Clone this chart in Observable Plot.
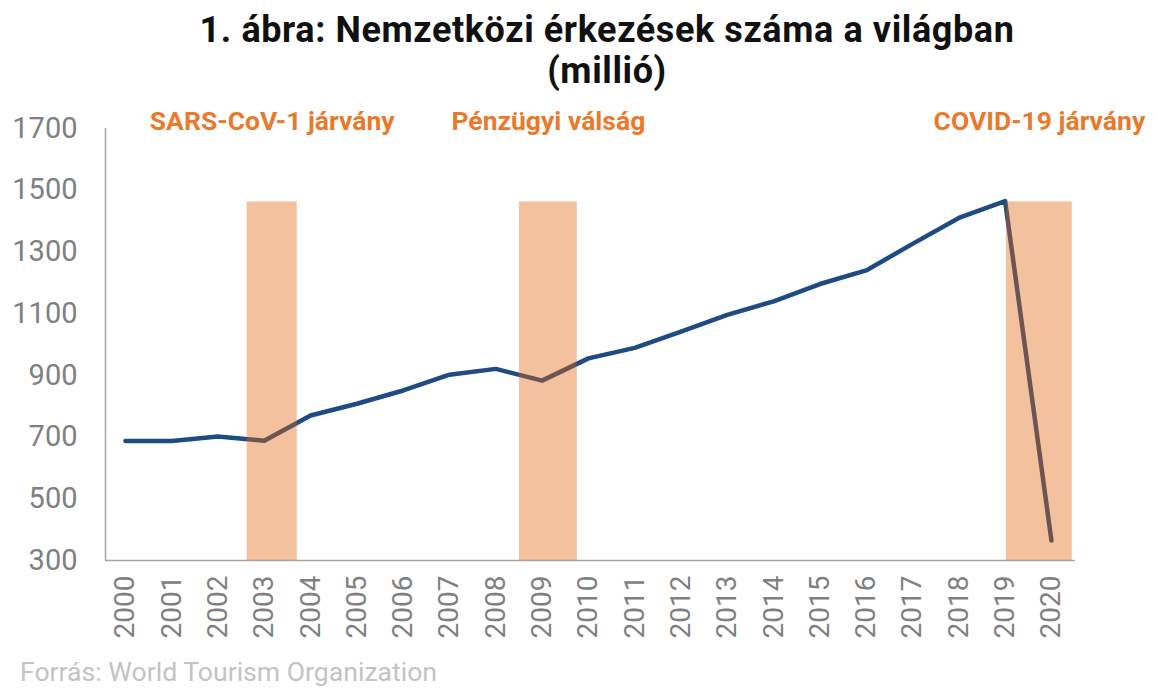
<!DOCTYPE html>
<html>
<head>
<meta charset="utf-8">
<script src="https://cdn.jsdelivr.net/npm/d3@7"></script>
<script src="https://cdn.jsdelivr.net/npm/@observablehq/plot@0.6"></script>
<style>
  html, body { margin: 0; padding: 0; background: #fff; }
  body { width: 1157px; height: 688px; overflow: hidden; font-family: Roboto, "Noto Sans", sans-serif; }
  #title { height: 100px; box-sizing: border-box; padding-top: 10px; padding-left: 57px; text-align: center; font-weight: 700; font-size: 36px; letter-spacing: 0.6px; line-height: 41px; color: #111; }
  #footer { height: 48px; box-sizing: border-box; padding-left: 20px; padding-top: 18px; font-size: 26.6px; color: #c3c3c3; line-height: 28px; }
  #chart svg { display: block; }
</style>
</head>
<body>
<div id="title">1. ábra: Nemzetközi érkezések száma a világban<br>(millió)</div>
<div id="chart"></div>
<div id="footer">Forrás: World Tourism Organization</div>
<script>
const years = [2000,2001,2002,2003,2004,2005,2006,2007,2008,2009,2010,2011,2012,2013,2014,2015,2016,2017,2018,2019,2020];
const arrivals = [687,687,702,688,770,808,851,902,921,883,955,989,1042,1096,1140,1196,1240,1326,1410,1465,365];
const yTicks = [300,500,700,900,1100,1300,1500,1700];

const crisisLabels = ["SARS-CoV-1 járvány", "Pénzügyi válság", "COVID-19 járvány"];
const crisisStart = [2002.63, 2008.51, 2019.03];
const crisisEnd = [2003.71, 2009.76, 2020.45];
const crisisTop = [1462, 1462, 1462];

const series = years.map((y, i) => ({year: y, value: arrivals[i]}));
const crises = crisisLabels.map((l, i) => ({label: l, x1: crisisStart[i], x2: crisisEnd[i], top: crisisTop[i], mid: (crisisStart[i] + crisisEnd[i]) / 2}));

const xDomain = [1999.57, 2020.52];
const yDomain = [300, 1700];

const chart = Plot.plot({
  width: 1157,
  height: 540,
  marginTop: 28,
  marginBottom: 80,
  marginLeft: 105,
  marginRight: 82,
  style: {fontFamily: "Roboto, sans-serif", background: "#fff"},
  x: {domain: xDomain, axis: null},
  y: {domain: yDomain, axis: null},
  marks: [
    Plot.axisY({ticks: yTicks, tickSize: 0, tickPadding: 28, fontSize: 29, fill: "#808080", tickFormat: d => String(d)}),
    Plot.axisX({ticks: years, tickSize: 0, tickRotate: -90, tickPadding: 15, fontSize: 28, fill: "#808080", tickFormat: d => String(d)}),
    Plot.ruleX([xDomain[0]], {y1: yDomain[0], y2: yDomain[1], stroke: "#a6a6a6", strokeWidth: 1.5}),
    Plot.ruleY([yDomain[0]], {x1: xDomain[0], x2: xDomain[1], stroke: "#a6a6a6", strokeWidth: 1.5}),
    Plot.line(series, {x: "year", y: "value", stroke: "#1f4a82", strokeWidth: 4.5, strokeLinejoin: "round", strokeLinecap: "round"}),
    Plot.rect(crises, {x1: "x1", x2: "x2", y1: yDomain[0], y2: "top", fill: "#e1640a", fillOpacity: 0.4}),
    Plot.text(crises, {x: "mid", y: yDomain[1], text: "label", dy: -7, fontSize: 26.5, fontWeight: 700, fill: "#ea7a2b", textAnchor: "middle"})
  ]
});
document.getElementById("chart").appendChild(chart);
</script>
</body>
</html>
